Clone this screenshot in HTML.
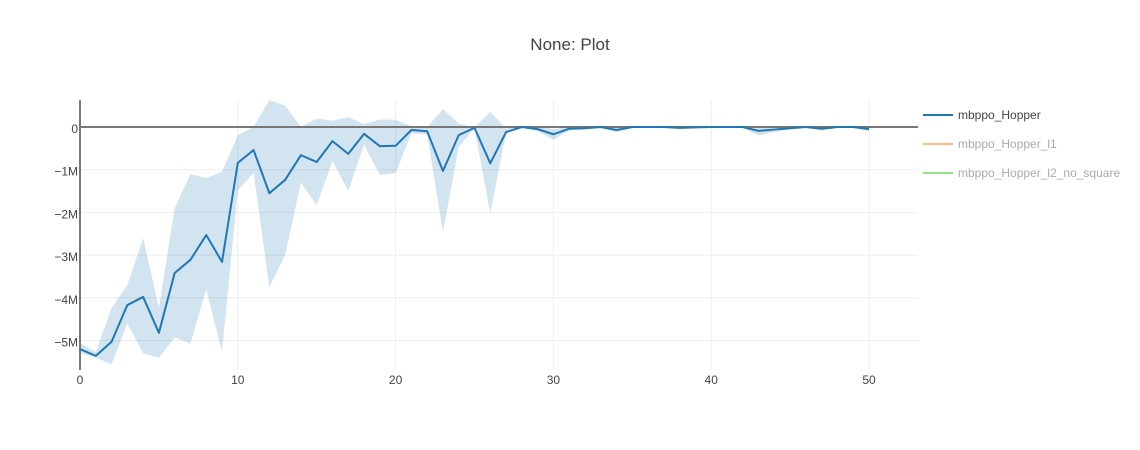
<!DOCTYPE html>
<html><head><meta charset="utf-8"><style>
html,body{margin:0;padding:0;background:#fff;}
svg{display:block;font-family:"Liberation Sans",sans-serif;}
</style></head><body>
<svg id="chart" width="1140" height="450"></svg>
<script>
const xs = [0,1,2,3,4,5,6,7,8,9,10,11,12,13,14,15,16,17,18,19,20,21,22,23,24,25,26,27,28,29,30,31,32,33,34,35,36,37,38,39,40,41,42,43,44,45,46,47,48,49,50];
const meanM = [-5.2,-5.36,-5.03,-4.17,-3.98,-4.82,-3.42,-3.11,-2.53,-3.16,-0.84,-0.54,-1.55,-1.24,-0.66,-0.82,-0.33,-0.63,-0.16,-0.45,-0.44,-0.07,-0.1,-1.03,-0.19,-0.02,-0.85,-0.12,0,-0.05,-0.17,-0.04,-0.03,0,-0.07,0,0,0,-0.02,-0.01,0,0,0,-0.09,-0.06,-0.03,0,-0.04,0,0,-0.05];
const upperM = [-5.06,-5.27,-4.24,-3.7,-2.6,-4.24,-1.9,-1.1,-1.2,-1.05,-0.19,0,0.63,0.5,0,0.2,0.15,0.23,0.07,0.18,0.17,0.02,0,0.42,0.08,-0.01,0.35,-0.03,0.01,0.01,-0.05,0.01,0.01,0.01,0,0.01,0.01,0.01,0.01,0.01,0.01,0.01,0.01,0.01,0.02,0.01,0.02,0.01,0.01,0.01,0];
const lowerM = [-5.3,-5.4,-5.56,-4.6,-5.3,-5.4,-4.93,-5.07,-3.8,-5.27,-1.48,-1.08,-3.75,-3.0,-1.3,-1.83,-0.8,-1.5,-0.42,-1.12,-1.08,-0.15,-0.18,-2.46,-0.47,-0.03,-2.02,-0.13,-0.02,-0.1,-0.3,-0.08,-0.06,-0.02,-0.12,-0.02,-0.02,-0.02,-0.05,-0.03,-0.02,-0.02,-0.02,-0.2,-0.12,-0.06,-0.02,-0.08,-0.02,-0.02,-0.1];
const xTicks = [0,10,20,30,40,50];
const yTicks = [0,-1,-2,-3,-4,-5];
const yTickLabels = ["0","\u22121M","\u22122M","\u22123M","\u22124M","\u22125M"];
const legendLabels = ["mbppo_Hopper","mbppo_Hopper_l1","mbppo_Hopper_l2_no_square"];
const legendColors = ["#1f77b4","#ffbb78","#98df8a"];

const NS="http://www.w3.org/2000/svg";
const svg=document.getElementById('chart');
const L=80,R=918,T=100,B=370;
const X=v=>L+v*15.78;
const Y=v=>127-v*42.7;
function mk(tag,attrs,parent){const e=document.createElementNS(NS,tag);for(const k in attrs)e.setAttribute(k,attrs[k]);(parent||svg).appendChild(e);return e;}

const title=mk('text',{x:570,y:50,'text-anchor':'middle','font-size':17,fill:'#444'});
title.textContent='None: Plot';



xTicks.forEach(t=>{
  const g=mk('line',{x1:X(t),x2:X(t),y1:T,y2:B,stroke:'#eee','stroke-width':1});
  
  
  const lb=mk('text',{x:X(t),y:384,'text-anchor':'middle','font-size':12,fill:'#444'});
  lb.textContent=String(t);
  
  
});
yTicks.forEach((t,i)=>{
  if(t!==0){
    const g=mk('line',{x1:L,x2:R,y1:Y(t),y2:Y(t),stroke:'#eee','stroke-width':1});
    
    
  }
  const lb=mk('text',{x:78,y:Y(t)+6,'text-anchor':'end','font-size':12,fill:'#444'});
  lb.textContent=yTickLabels[i];
  
  
});

let d='M'+xs.map((x,i)=>X(x)+','+Y(upperM[i])).join('L');
for(let i=xs.length-1;i>=0;i--)d+='L'+X(xs[i])+','+Y(lowerM[i]);
const band=mk('path',{d:d+'Z',fill:'rgba(31,119,180,0.2)',stroke:'none'});



const zl=mk('line',{x1:L,x2:R,y1:Y(0),y2:Y(0),stroke:'#777','stroke-width':2});


const ya=mk('line',{x1:L,x2:L,y1:T,y2:B,stroke:'#777','stroke-width':2});



const ml=mk('polyline',{points:xs.map((x,i)=>X(x)+','+Y(meanM[i])).join(' '),fill:'none',stroke:'#1f77b4','stroke-width':2,'stroke-linejoin':'round'});



legendLabels.forEach((lab,i)=>{
  const y=115+i*29;
  const g=mk('g',{});
  
  
  mk('line',{x1:923,x2:953,y1:y,y2:y,stroke:legendColors[i],'stroke-width':2},g);
  const t=mk('text',{x:958,y:y+4,'font-size':12,fill:i===0?'#444':'#aaa'},g);
  t.textContent=lab;
});
</script>
</body></html>
